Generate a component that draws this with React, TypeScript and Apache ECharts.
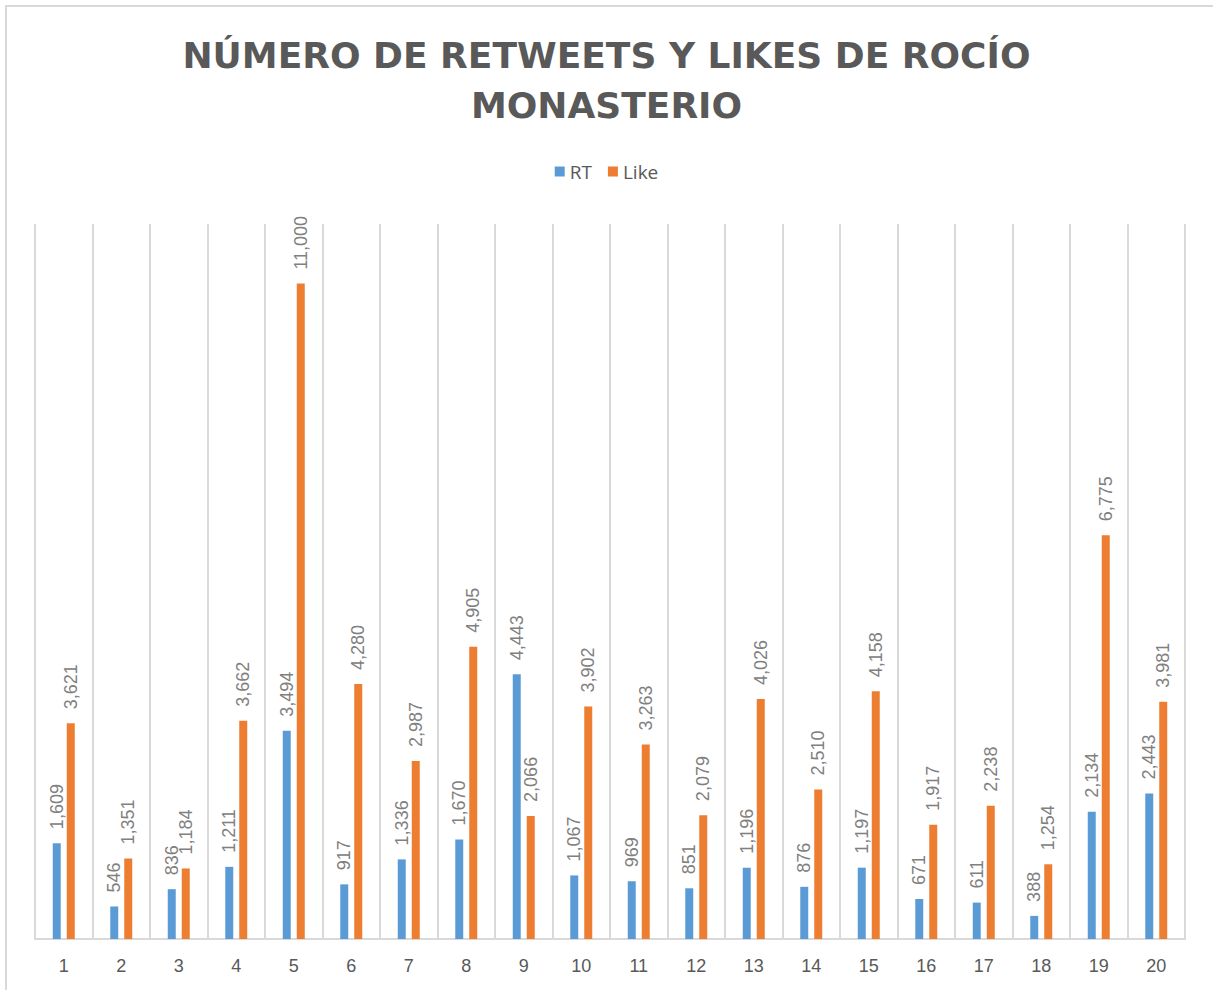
import React, { useEffect, useRef } from "react";
import * as echarts from "echarts";

const categories = ["1","2","3","4","5","6","7","8","9","10","11","12","13","14","15","16","17","18","19","20"];
const rtValues = [1609, 546, 836, 1211, 3494, 917, 1336, 1670, 4443, 1067, 969, 851, 1196, 876, 1197, 671, 611, 388, 2134, 2443];
const likeValues = [3621, 1351, 1184, 3662, 11000, 4280, 2987, 4905, 2066, 3902, 3263, 2079, 4026, 2510, 4158, 1917, 2238, 1254, 6775, 3981];
const titleText = "NÚMERO DE RETWEETS Y LIKES DE ROCÍO\nMONASTERIO";

const fmt = (v: number) => v.toLocaleString("en-US");

export default function App() {
  const ref = useRef<HTMLDivElement>(null);
  useEffect(() => {
    document.body.style.margin = "0";
    const chart = echarts.init(ref.current!, null, { renderer: "svg" });
    const label = {
      show: true,
      position: "top" as const,
      rotate: 90,
      align: "left" as const,
      verticalAlign: "middle" as const,
      distance: 14,
      color: "#808080",
      fontSize: 18,
      fontFamily: "Liberation Sans",
      formatter: (p: any) => fmt(p.value),
    };
    chart.setOption({
      animation: false,
      backgroundColor: "#ffffff",
      title: {
        text: titleText,
        left: "center",
        top: 25,
        textStyle: {
          fontFamily: "DejaVu Sans",
          fontWeight: "bold",
          fontSize: 36,
          lineHeight: 50,
          color: "#595959",
        },
      },
      legend: {
        top: 157,
        left: "center",
        itemWidth: 10,
        itemHeight: 10,
        itemGap: 16,
        icon: "rect",
        textStyle: { fontFamily: "Open Sans", fontSize: 19, color: "#595959" },
        data: ["RT", "Like"],
      },
      graphic: [
        { type: "line", shape: { x1: 5, y1: 6, x2: 1213, y2: 6 }, style: { stroke: "#d9d9d9", lineWidth: 2 } },
        { type: "line", shape: { x1: 6, y1: 5, x2: 6, y2: 990 }, style: { stroke: "#d9d9d9", lineWidth: 2 } },
      ],
      grid: { left: 35, right: 28, top: 224, bottom: 51, containLabel: false },
      xAxis: {
        type: "category",
        data: categories,
        axisLine: { lineStyle: { color: "#d9d9d9", width: 2 } },
        axisTick: { show: false },
        axisLabel: { color: "#595959", fontSize: 18, fontFamily: "Liberation Sans", margin: 18 },
        splitLine: { show: true, lineStyle: { color: "#d9d9d9", width: 2 } },
      },
      yAxis: {
        type: "value",
        min: 0,
        max: 12000,
        interval: 2000,
        show: false,
        splitLine: { show: false },
      },
      series: [
        {
          name: "RT",
          type: "bar",
          data: rtValues,
          barWidth: 8,
          barGap: "75%",
          itemStyle: { color: "#5b9bd5" },
          label,
        },
        {
          name: "Like",
          type: "bar",
          data: likeValues,
          barWidth: 8,
          itemStyle: { color: "#ed7d31" },
          label,
        },
      ],
    });
    return () => chart.dispose();
  }, []);
  return <div ref={ref} style={{ width: 1213, height: 990 }} />;
}
